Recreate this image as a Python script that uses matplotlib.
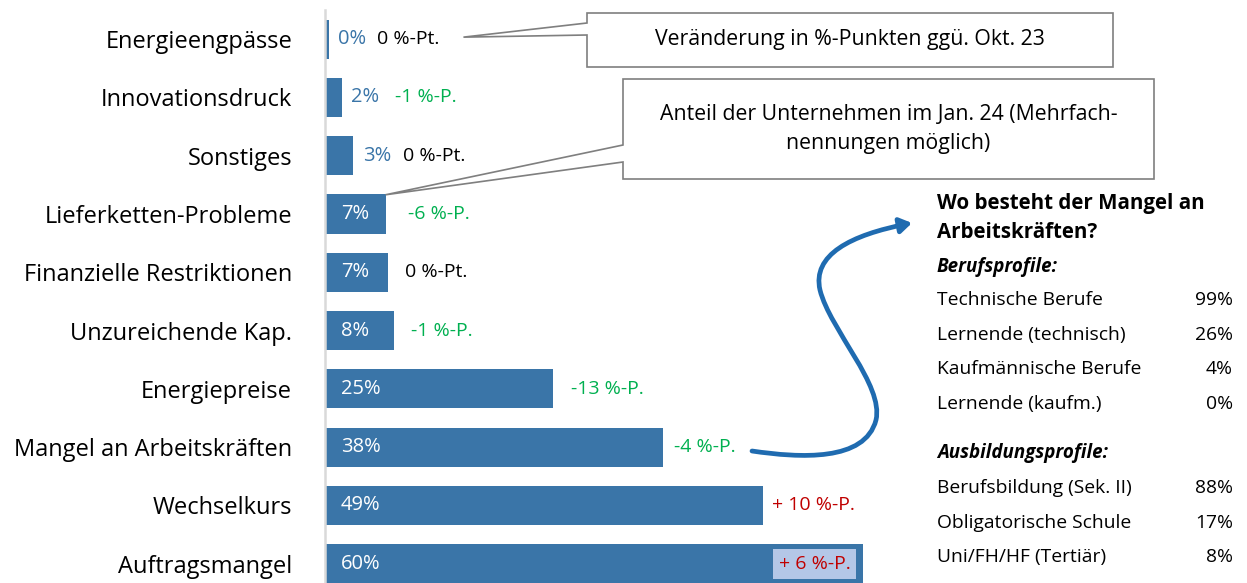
import matplotlib.pyplot as plt
from matplotlib.patches import Polygon, FancyArrowPatch
from matplotlib.path import Path

plt.rcParams['font.family'] = ['Open Sans', 'DejaVu Sans']

# Data (share of firms, Jan. 24, in %)
categories = ['Energieengpässe', 'Innovationsdruck', 'Sonstiges', 'Lieferketten-Probleme',
              'Finanzielle Restriktionen', 'Unzureichende Kap.', 'Energiepreise',
              'Mangel an Arbeitskräften', 'Wechselkurs', 'Auftragsmangel']
values = [0.35, 1.8, 3.1, 6.7, 7.0, 7.6, 25.4, 37.7, 48.8, 60.0]
changes = [0, -1, 0, -6, 0, -1, -13, -4, 10, 6]  # %-points vs. Okt. 23

# where the change labels sit (x in %)
change_x = [5.7, 7.8, 8.6, 9.2, 8.9, 9.6, 27.4, 38.9, 49.8, 50.6]

beruf_labels = ['Technische Berufe', 'Lernende (technisch)', 'Kaufmännische Berufe', 'Lernende (kaufm.)']
beruf_values = [99, 26, 4, 0]
ausb_labels = ['Berufsbildung (Sek. II)', 'Obligatorische Schule', 'Uni/FH/HF (Tertiär)']
ausb_values = [88, 17, 8]

BAR = '#3a75a8'
GREEN = '#00b050'
RED = '#c00000'
W, H = 1247, 583


def fx(x):
    return x / W


def fy(y):
    return 1 - y / H


fig = plt.figure(figsize=(W / 100, H / 100), dpi=100)
ax = fig.add_axes([fx(325.5), 0, fx(900 - 325.5), (H - 10) / H])

ypos = list(range(len(categories)))
ax.barh(ypos, values, height=0.67, color=BAR)
ax.set_ylim(9.33, -0.5)
ax.set_xlim(0, (900 - 326) / 8.95)
ax.set_yticks(ypos, categories, fontsize=17)
ax.tick_params(axis='y', length=0, pad=24)
ax.set_xticks([])
for s in ['top', 'right', 'bottom']:
    ax.spines[s].set_visible(False)
ax.spines['left'].set_color('#d9d9d9')
ax.spines['left'].set_linewidth(1.8)

# value labels
for i, v in enumerate(values):
    if v < 5:
        ax.annotate(f'{v:.0f}%', (v, i), xytext=(7, 0), textcoords='offset points',
                    va='center', ha='left', color=BAR, fontsize=14.5)
    else:
        ax.annotate(f'{v:.0f}%', (0, i), xytext=(11, 0), textcoords='offset points',
                    va='center', ha='left', color='white', fontsize=14.5)

# change labels
for i, c in enumerate(changes):
    if c == 0:
        txt, col = '0 %-Pt.', 'black'
    elif c < 0:
        txt, col = f'{c} %-P.', GREEN
    else:
        txt, col = f'+ {c} %-P.', RED
    box = None
    if i == len(changes) - 1:
        box = dict(boxstyle='square,pad=0.3', fc='#b4c7e7', ec='none')
    ax.text(change_x[i], i, txt, va='center', ha='left', color=col, fontsize=14, bbox=box)


# callouts (box with wedge pointer)
def callout(x0, y0, x1, y1, wy0, wy1, tip, text):
    pts = [(x0, y0), (x1, y0), (x1, y1), (x0, y1), (x0, wy1), tip, (x0, wy0)]
    poly = Polygon([(fx(a), fy(b)) for a, b in pts], closed=True, transform=fig.transFigure,
                   fc='white', ec='#7f7f7f', lw=1.2, zorder=5)
    fig.add_artist(poly)
    fig.text(fx((x0 + x1) / 2), fy((y0 + y1) / 2), text, ha='center', va='center',
             fontsize=15.3, zorder=6, linespacing=1.45)


tip1 = ax.transData.transform((change_x[0] + 9.7, 0))
callout(587, 13, 1113, 67, 23, 35, (tip1[0], H - tip1[1] - 2),
        'Veränderung in %-Punkten ggü. Okt. 23')
tip2 = ax.transData.transform((values[3], 3 - 0.33))
callout(623, 79, 1154, 179, 145, 162, (tip2[0], H - tip2[1]),
        'Anteil der Unternehmen im Jan. 24 (Mehrfach-\nnennungen möglich)')

# curved arrow to the side panel
verts = [(752, 451), (800, 458), (865, 462), (876, 420),
         (884, 385), (830, 330), (820, 290),
         (812, 255), (850, 235), (912, 223)]
codes = [Path.MOVETO] + [Path.CURVE4] * 9
path = Path([(fx(a), fy(b)) for a, b in verts], codes)
arr = FancyArrowPatch(path=path, arrowstyle='-|>,head_length=7,head_width=4.5',
                      color='#1f6bb0', lw=3.4, transform=fig.transFigure)
fig.add_artist(arr)

# side panel
LX, RX = 937, 1233
fig.text(fx(LX), fy(203), 'Wo besteht der Mangel an', fontsize=14.8, fontweight='bold', va='center')
fig.text(fx(LX), fy(232), 'Arbeitskräften?', fontsize=14.8, fontweight='bold', va='center')
fig.text(fx(LX), fy(267), 'Berufsprofile:', fontsize=13.5, fontweight='bold', style='italic', va='center')
for k, (lab, val) in enumerate(zip(beruf_labels, beruf_values)):
    yy = 300 + k * 34.7
    fig.text(fx(LX), fy(yy), lab, fontsize=13.9, va='center')
    fig.text(fx(RX), fy(yy), f'{val}%', fontsize=13.9, va='center', ha='right')
fig.text(fx(LX), fy(453), 'Ausbildungsprofile:', fontsize=13.5, fontweight='bold', style='italic', va='center')
for k, (lab, val) in enumerate(zip(ausb_labels, ausb_values)):
    yy = 488 + k * 34.7
    fig.text(fx(LX), fy(yy), lab, fontsize=13.9, va='center')
    fig.text(fx(RX), fy(yy), f'{val}%', fontsize=13.9, va='center', ha='right')

fig.savefig('out.png', dpi=100)
